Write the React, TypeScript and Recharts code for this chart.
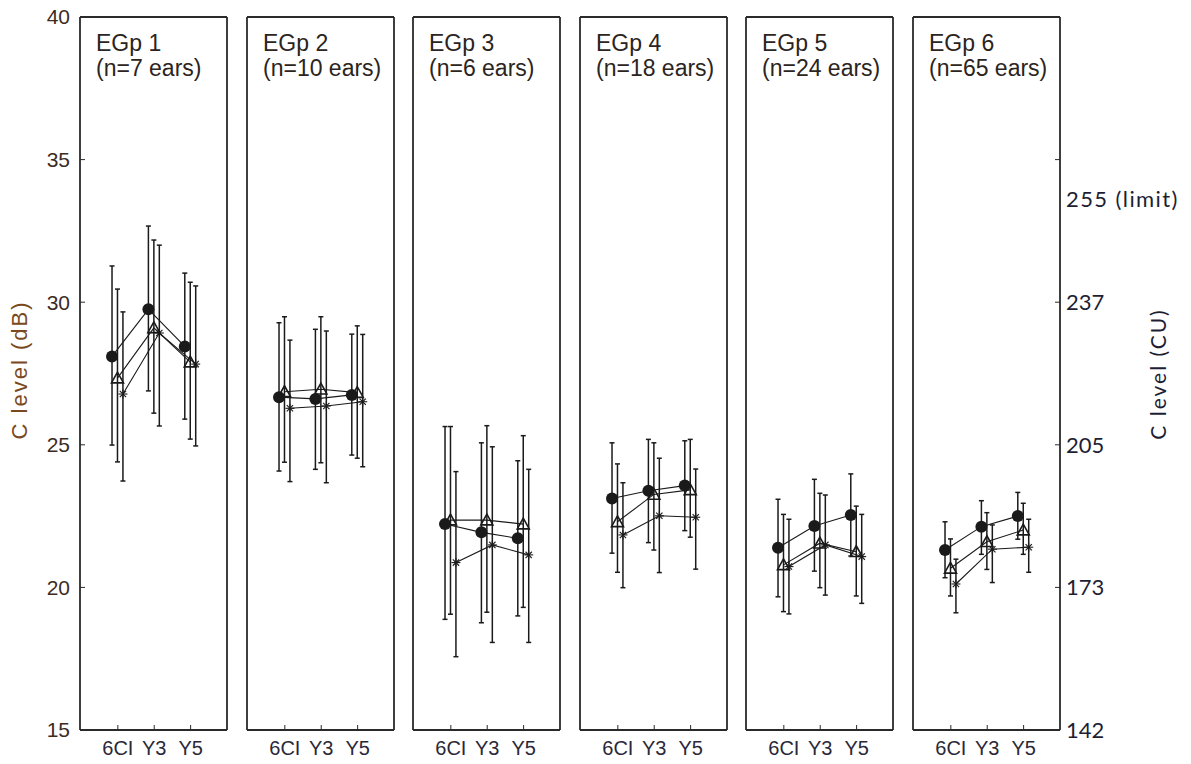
import React from "react";
import { ComposedChart, Scatter, ErrorBar, XAxis, YAxis } from "recharts";

const CATEGORIES = ["6CI", "Y3", "Y5"];
const GROUPS = ["EGp 1", "EGp 2", "EGp 3", "EGp 4", "EGp 5", "EGp 6"];
const EARS = [7, 10, 6, 18, 24, 65];

const DB_TICKS = [15, 20, 25, 30, 35, 40];
const CU_TICKS = [15, 20, 25, 30, 35];
const CU_LABELS = ["142", "173", "205", "237", ""];
const CU_LIMIT = 33.6;
const CU_LIMIT_LABEL = "255 (limit)";

// filled circles: mean and error bar ends, one row per group
const CIRCLE_MEAN = [
  [28.1, 29.75, 28.45],
  [26.67, 26.61, 26.75],
  [22.22, 21.93, 21.72],
  [23.12, 23.39, 23.57],
  [21.39, 22.15, 22.54],
  [21.31, 22.13, 22.5],
];
const CIRCLE_HI = [
  [31.27, 32.67, 31.02],
  [29.28, 29.05, 28.88],
  [25.64, 25.07, 24.44],
  [25.07, 25.19, 25.14],
  [23.09, 23.79, 23.98],
  [22.3, 23.04, 23.33],
];
const CIRCLE_LO = [
  [24.99, 26.89, 25.9],
  [24.08, 24.14, 24.64],
  [18.88, 18.76, 19.0],
  [21.2, 21.57, 21.99],
  [19.67, 20.57, 21.1],
  [20.34, 21.16, 21.69],
];

// open triangles
const TRI_MEAN = [
  [27.34, 29.1, 27.9],
  [26.86, 26.95, 26.83],
  [22.36, 22.36, 22.22],
  [22.3, 23.26, 23.42],
  [20.79, 21.55, 21.25],
  [20.67, 21.6, 22.01],
];
const TRI_HI = [
  [30.46, 32.18, 30.7],
  [29.49, 29.49, 29.17],
  [25.64, 25.67, 25.32],
  [24.33, 25.07, 25.19],
  [22.56, 23.3, 22.85],
  [21.7, 22.62, 22.95],
];
const TRI_LO = [
  [24.4, 26.11, 25.2],
  [24.39, 24.37, 24.53],
  [19.06, 19.13, 19.3],
  [20.53, 21.31, 21.76],
  [19.15, 19.99, 19.7],
  [19.7, 20.63, 21.16],
];

// asterisks
const STAR_MEAN = [
  [26.78, 28.92, 27.83],
  [26.28, 26.36, 26.51],
  [20.87, 21.49, 21.14],
  [21.84, 22.51, 22.46],
  [20.73, 21.49, 21.08],
  [20.12, 21.34, 21.41],
];
const STAR_HI = [
  [29.66, 32.0, 30.57],
  [28.67, 28.99, 28.87],
  [24.06, 24.93, 24.14],
  [23.67, 24.53, 24.15],
  [22.39, 23.24, 22.56],
  [20.99, 22.19, 22.39],
];
const STAR_LO = [
  [23.73, 25.66, 24.96],
  [23.71, 23.67, 24.23],
  [17.57, 18.07, 18.07],
  [19.99, 20.52, 20.64],
  [19.07, 19.73, 19.44],
  [19.11, 20.17, 20.53],
];

const INK = "#1a1a1a";
const FRAME = "#2a2a2a";
const PANEL_LEFT = [80, 247, 413, 580, 746, 913];
const PLOT_W = 147;
const LEFT_AXIS_W = 80;
const RIGHT_AXIS_W = 131;

const CircleMark = (p: any) => <circle cx={p.cx} cy={p.cy} r={6} fill={INK} />;

const TriMark = (p: any) => {
  const { cx, cy } = p;
  const s = 6;
  return (
    <polygon
      points={`${cx},${cy - s} ${cx - s},${cy + s * 0.8} ${cx + s},${cy + s * 0.8}`}
      fill="none"
      stroke={INK}
      strokeWidth={1.6}
    />
  );
};

const StarMark = (p: any) => {
  const { cx, cy } = p;
  const s = 4.5;
  return (
    <g stroke={INK} strokeWidth={1.1}>
      <line x1={cx - s} y1={cy} x2={cx + s} y2={cy} />
      <line x1={cx} y1={cy - s} x2={cx} y2={cy + s} />
      <line x1={cx - s * 0.7} y1={cy - s * 0.7} x2={cx + s * 0.7} y2={cy + s * 0.7} />
      <line x1={cx - s * 0.7} y1={cy + s * 0.7} x2={cx + s * 0.7} y2={cy - s * 0.7} />
    </g>
  );
};

const SERIES = [
  { name: "circle", mean: CIRCLE_MEAN, hi: CIRCLE_HI, lo: CIRCLE_LO, offset: -0.16, shape: CircleMark },
  { name: "triangle", mean: TRI_MEAN, hi: TRI_HI, lo: TRI_LO, offset: -0.01, shape: TriMark },
  { name: "star", mean: STAR_MEAN, hi: STAR_HI, lo: STAR_LO, offset: 0.14, shape: StarMark },
];

const RightTick = (props: any) => {
  const { x, y, payload } = props;
  const v = payload.value;
  if (v === CU_LIMIT) {
    return (
      <text x={x} y={y} dy="0.36em" fill="#1e1e33" fontSize={22} letterSpacing={1.4} fontFamily="Lato, sans-serif">
        {CU_LIMIT_LABEL}
      </text>
    );
  }
  const label = CU_LABELS[CU_TICKS.indexOf(v)];
  return (
    <g>
      <line x1={x - 6} y1={y} x2={x - 11} y2={y} stroke={FRAME} strokeWidth={1} />
      <text x={x} y={y} dy="0.36em" fill="#1e1e33" fontSize={22} fontFamily="Lato, sans-serif">
        {label}
      </text>
    </g>
  );
};

function Panel({ index }: { index: number }) {
  const first = index === 0;
  const last = index === GROUPS.length - 1;
  // zero-sized axes are skipped by recharts, so the frame axes get 1px
  const leftW = first ? LEFT_AXIS_W : 1;
  const rightW = last ? RIGHT_AXIS_W : 1;
  const axisLine = { stroke: FRAME, strokeWidth: 1.8 };
  const tickLine = { stroke: FRAME, strokeWidth: 1 };

  return (
    <div style={{ position: "absolute", left: PANEL_LEFT[index] - leftW, top: 0 }}>
      <ComposedChart
        width={leftW + PLOT_W + rightW}
        height={764}
        margin={{ top: 16, right: 0, bottom: 4, left: 0 }}
      >
        <XAxis
          xAxisId="b"
          type="number"
          dataKey="x"
          domain={[-1.04, 3]}
          ticks={[0, 1, 2]}
          interval={0}
          allowDataOverflow
          height={30}
          axisLine={axisLine}
          tickLine={tickLine}
          tickSize={-5}
          tickMargin={16}
          tickFormatter={(v: number) => CATEGORIES[v]}
          tick={{ fill: "#2a2838", fontSize: 20, fontFamily: "Liberation Sans, Arial, sans-serif" }}
        />
        <XAxis
          xAxisId="t"
          orientation="top"
          type="number"
          domain={[-1.04, 3]}
          ticks={[0, 1, 2]}
          interval={0}
          allowDataOverflow
          height={1}
          axisLine={axisLine}
          tickLine={tickLine}
          tickSize={-5}
          tick={false}
        />
        <YAxis
          yAxisId="l"
          type="number"
          dataKey="y"
          domain={[15, 40]}
          ticks={DB_TICKS}
          interval={0}
          allowDataOverflow
          width={leftW}
          axisLine={axisLine}
          tickLine={tickLine}
          tickSize={-5}
          tickMargin={15}
          tick={first ? { fill: "#3d2b1f", fontSize: 21, fontFamily: "Liberation Sans, Arial, sans-serif" } : false}
        />
        <YAxis
          yAxisId="r"
          orientation="right"
          type="number"
          domain={[15, 40]}
          ticks={last ? [...CU_TICKS, CU_LIMIT] : DB_TICKS}
          interval={0}
          allowDataOverflow
          width={rightW}
          axisLine={axisLine}
          tickLine={last ? false : tickLine}
          tickSize={last ? 0 : -5}
          tickMargin={6}
          tick={last ? (p: any) => <RightTick {...p} /> : false}
        />
        {SERIES.map((s) => (
          <Scatter
            key={s.name}
            xAxisId="b"
            yAxisId="l"
            data={CATEGORIES.map((c, i) => ({
              x: i + s.offset,
              y: s.mean[index][i],
              err: [s.mean[index][i] - s.lo[index][i], s.hi[index][i] - s.mean[index][i]],
            }))}
            line={{ stroke: INK, strokeWidth: 1.1 }}
            lineType="joint"
            shape={(p: any) => <s.shape {...p} />}
            isAnimationActive={false}
          >
            <ErrorBar
              dataKey="err"
              direction="y"
              width={2.5}
              stroke={INK}
              strokeWidth={1.5}
              isAnimationActive={false}
            />
          </Scatter>
        ))}
      </ComposedChart>
    </div>
  );
}

export default function App() {
  return (
    <div
      style={{
        position: "absolute",
        left: 0,
        top: 0,
        width: 1191,
        height: 764,
        background: "#fff",
        fontFamily: "Liberation Sans, Arial, sans-serif",
      }}
    >
      {GROUPS.map((g, i) => (
        <Panel key={g} index={i} />
      ))}
      <svg
        width={1191}
        height={764}
        style={{ position: "absolute", left: 0, top: 0, pointerEvents: "none" }}
      >
        {GROUPS.map((g, i) => (
          <g key={g} fill="#2b2420" fontSize={23} fontFamily="Liberation Sans, Arial, sans-serif">
            <text x={PANEL_LEFT[i] + 16} y={51}>
              {g}
            </text>
            <text x={PANEL_LEFT[i] + 16} y={76}>
              (n={EARS[i]} ears)
            </text>
          </g>
        ))}
        <text
          transform="translate(19,370) rotate(-90)"
          textAnchor="middle"
          dominantBaseline="central"
          fill="#7a4a1e"
          fontSize={22}
          letterSpacing={2}
          fontFamily="Liberation Sans, Arial, sans-serif"
        >
          C level (dB)
        </text>
        <text
          transform="translate(1157,374) rotate(-90)"
          textAnchor="middle"
          dominantBaseline="central"
          fill="#1e1e33"
          fontSize={21}
          letterSpacing={2}
          fontFamily="Lato, sans-serif"
        >
          C level (CU)
        </text>
      </svg>
    </div>
  );
}
